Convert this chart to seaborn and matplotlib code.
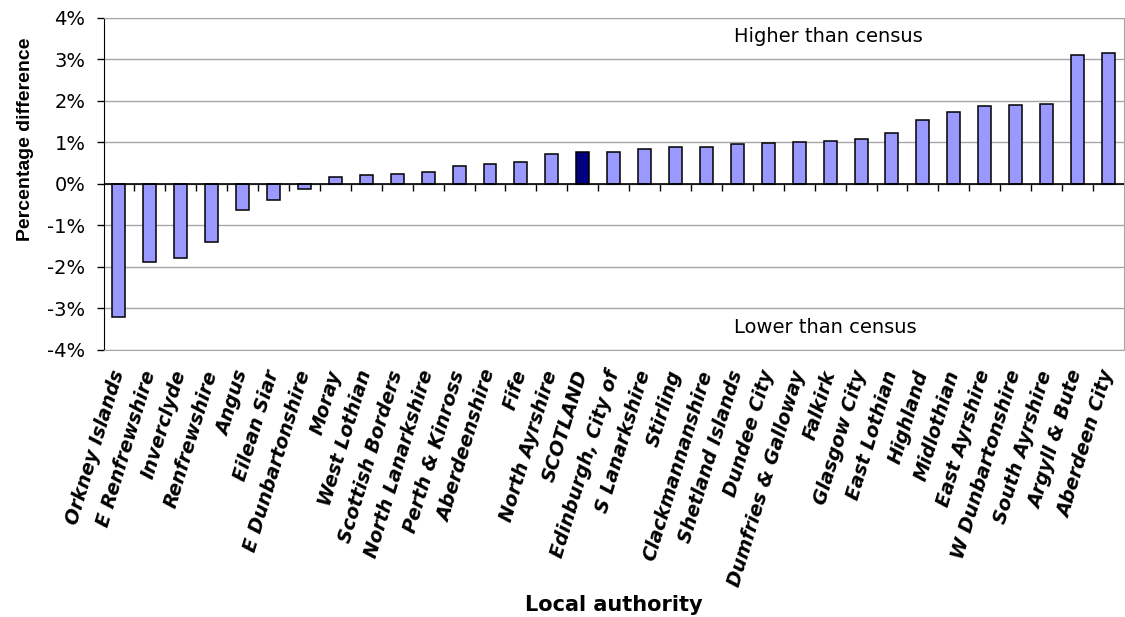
#!/usr/bin/env python3

import pandas as pd
import matplotlib
matplotlib.use('Agg')
import matplotlib.pyplot as plt
from matplotlib.ticker import PercentFormatter, FixedLocator, NullFormatter
import seaborn as sns

# Chart data
authorities = [
    'Orkney Islands', 'E Renfrewshire', 'Inverclyde', 'Renfrewshire', 'Angus',
    'Eilean Siar', 'E Dunbartonshire', 'Moray', 'West Lothian', 'Scottish Borders',
    'North Lanarkshire', 'Perth & Kinross', 'Aberdeenshire', 'Fife', 'North Ayrshire',
    'SCOTLAND', 'Edinburgh, City of', 'S Lanarkshire', 'Stirling', 'Clackmannanshire',
    'Shetland Islands', 'Dundee City', 'Dumfries & Galloway', 'Falkirk', 'Glasgow City',
    'East Lothian', 'Highland', 'Midlothian', 'East Ayrshire', 'W Dunbartonshire',
    'South Ayrshire', 'Argyll & Bute', 'Aberdeen City',
]
pct_diff = [
    -3.20, -1.89, -1.79, -1.41, -0.63,
    -0.40, -0.12, 0.17, 0.21, 0.23,
    0.29, 0.43, 0.48, 0.52, 0.72,
    0.77, 0.78, 0.85, 0.89, 0.90,
    0.95, 0.98, 1.01, 1.03, 1.07,
    1.23, 1.55, 1.74, 1.88, 1.90,
    1.93, 3.10, 3.15,
]

BAR_COLOR = '#9999FF'
TOTAL_COLOR = '#000080'
GRID_COLOR = '#A6A6A6'

df = pd.DataFrame({'authority': authorities, 'diff': pct_diff})
df['group'] = ['total' if a == 'SCOTLAND' else 'la' for a in df['authority']]

sns.set_style('white')
plt.rcParams['font.family'] = ['DejaVu Sans']
plt.rcParams['axes.unicode_minus'] = False
plt.rcParams['text.color'] = 'black'
plt.rcParams['axes.labelcolor'] = 'black'
plt.rcParams['xtick.color'] = 'black'
plt.rcParams['ytick.color'] = 'black'

fig = plt.figure(figsize=(11.25, 6.17), dpi=100)
ax = fig.add_axes([0.092, 0.433, 0.907, 0.538])

sns.barplot(data=df, x='authority', y='diff', hue='group',
            palette={'la': BAR_COLOR, 'total': TOTAL_COLOR}, saturation=1,
            width=0.42, edgecolor='black', linewidth=1.1,
            dodge=False, legend=False, ax=ax)

# Y axis
ax.set_ylim(-4, 4)
ax.set_yticks(range(-4, 5))
ax.yaxis.set_major_formatter(PercentFormatter(decimals=0))
ax.tick_params(axis='y', direction='out', length=5, width=1, color='black',
               labelsize=14, pad=8, left=True)
ax.yaxis.grid(True, color=GRID_COLOR, linewidth=1)
ax.set_axisbelow(True)

# X axis labels (the ticks go on the zero line below)
n = len(authorities)
ax.set_xlim(-0.5, n - 0.5)
ax.tick_params(axis='x', length=0, pad=15)
for lab in ax.get_xticklabels():
    lab.set_rotation(73)
    lab.set_ha('right')
    lab.set_va('center')
    lab.set_rotation_mode('anchor')
    lab.set_fontsize(13.8)
    lab.set_fontweight('bold')
    lab.set_fontstyle('italic')
    lab.set_color('black')

for side in ['top', 'right', 'bottom']:
    ax.spines[side].set_color(GRID_COLOR)
ax.spines['left'].set_color('black')

# Zero line with category separators pointing down
ax.axhline(0, color='black', linewidth=1.2, zorder=3)
zero_ax = ax.secondary_xaxis(0.5)
for sp in zero_ax.spines.values():
    sp.set_visible(False)
zero_ax.xaxis.set_major_locator(FixedLocator([i + 0.5 for i in range(n - 1)]))
zero_ax.xaxis.set_major_formatter(NullFormatter())
zero_ax.tick_params(axis='x', direction='in', length=5, width=1, color='black')

ax.set_ylabel('Percentage difference', fontsize=14, fontweight='bold',
              family='Liberation Sans')
ax.yaxis.set_label_coords(-0.068, 0.633)
ax.set_xlabel('Local authority', fontsize=15, fontweight='bold')
ax.xaxis.set_label_coords(0.5, -0.768)
ax.xaxis.label.set_va('center')

ax.text(19.9, 3.55, 'Higher than census', fontsize=14, ha='left', va='center')
ax.text(19.9, -3.45, 'Lower than census', fontsize=14, ha='left', va='center')

plt.savefig('out.png', dpi=100)
plt.close()
